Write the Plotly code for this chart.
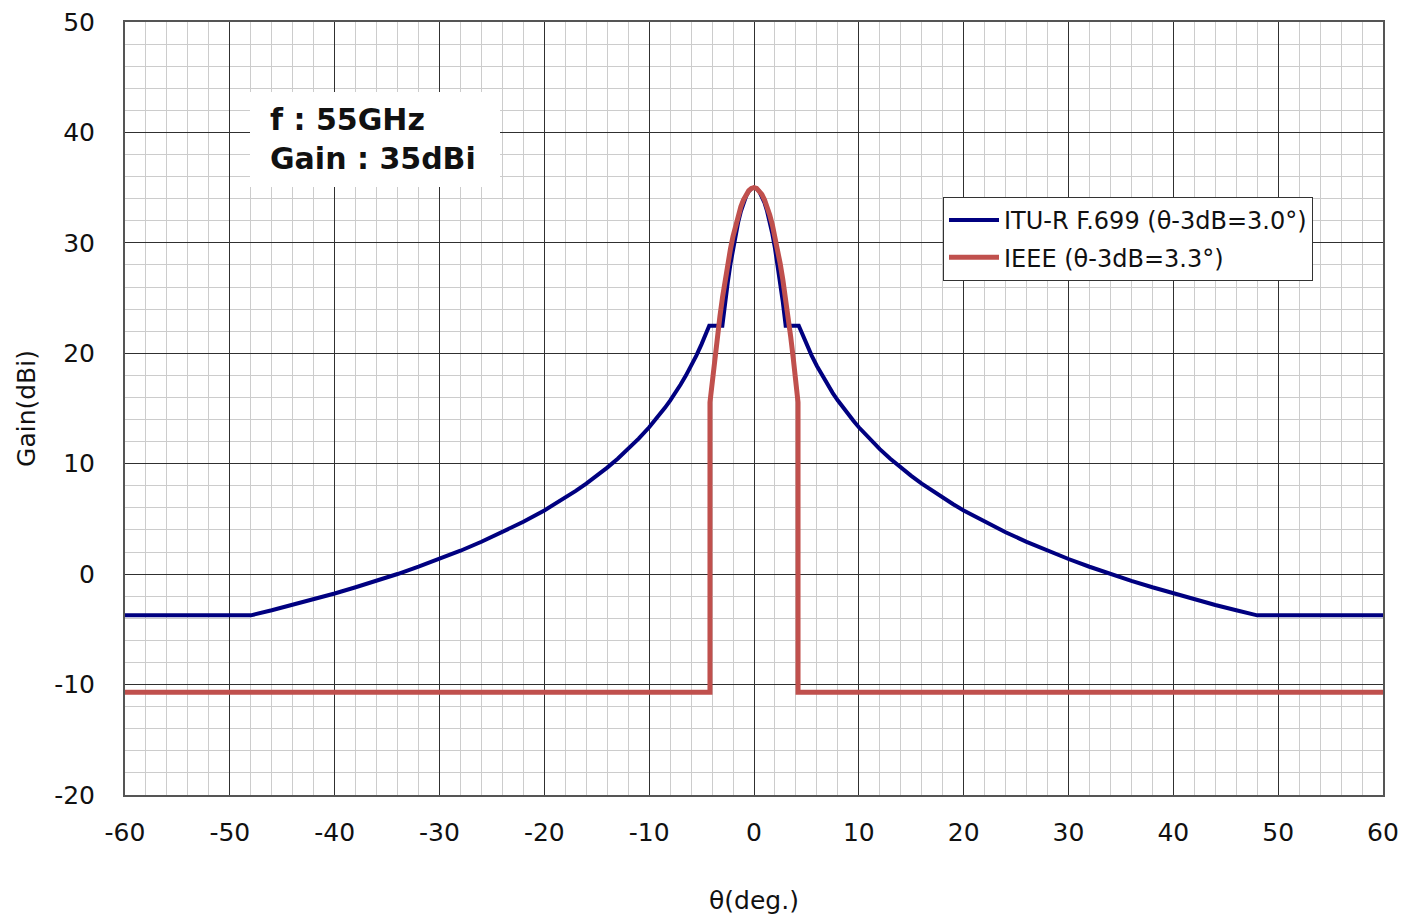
import plotly.graph_objects as go

# ---- data ----
theta_itu = [-60, -48, -46, -44, -42, -40, -38, -36, -34, -32, -30, -28, -26, -24, -22,
             -20, -19, -18, -17, -16, -15, -14, -13, -12, -11, -10, -9.5, -9, -8.5, -8, -7.5,
             -7, -6.5, -6, -5.5, -5, -4.5,
             -4.27, -3.02, -3.0, -2.75, -2.5, -2.25, -2.0, -1.75, -1.5, -1.25, -1.0,
             -0.75, -0.5, -0.25, 0,
             0.25, 0.5, 0.75, 1.0, 1.25, 1.5, 1.75, 2.0, 2.25, 2.5, 2.75, 3.0, 3.02,
             4.27, 4.5, 5, 5.5, 6, 6.5, 7, 7.5, 8, 8.5, 9, 9.5, 10, 11, 12, 13, 14, 15, 16, 17,
             18, 19, 20, 22, 24, 26, 28, 30, 32, 34, 36, 38, 40, 42, 44, 46, 48, 60]
gain_itu = [-3.73, -3.73, -3.27, -2.79, -2.28, -1.75, -1.19, -0.61, 0.01, 0.67, 1.37, 2.12, 2.93, 3.79, 4.74,
            5.77, 6.33, 6.92, 7.54, 8.20, 8.90, 9.65, 10.45, 11.32, 12.27, 13.30, 13.86, 14.44, 15.06, 15.72, 16.42,
            17.17, 17.98, 18.85, 19.79, 20.83, 21.97,
            22.5, 22.5, 22.68, 24.65, 26.44, 28.07, 29.52, 30.81, 31.92, 32.86, 33.63,
            34.23, 34.66, 34.91, 35.0,
            34.91, 34.66, 34.23, 33.63, 32.86, 31.92, 30.81, 29.52, 28.07, 26.44, 24.65, 22.68, 22.5,
            22.5, 21.97, 20.83, 19.79, 18.85, 17.98, 17.17, 16.42, 15.72, 15.06, 14.44, 13.86, 13.30, 12.27,
            11.32, 10.45, 9.65, 8.90, 8.20, 7.54,
            6.92, 6.33, 5.77, 4.74, 3.79, 2.93, 2.12, 1.37, 0.67, 0.01, -0.61, -1.19, -1.75, -2.28, -2.79,
            -3.27, -3.73, -3.73]

theta_ieee = [-60, -4.2, -4.2, -4.0, -3.75, -3.5, -3.25, -3.0, -2.75, -2.5, -2.25, -2.0, -1.75,
              -1.5, -1.25, -1.0, -0.75, -0.5, -0.25, 0,
              0.25, 0.5, 0.75, 1.0, 1.25, 1.5, 1.75, 2.0, 2.25, 2.5, 2.75, 3.0, 3.25, 3.5,
              3.75, 4.0, 4.2, 4.2, 60]
gain_ieee = [-10.7, -10.7, 15.56, 17.37, 19.50, 21.50, 23.36, 25.08, 26.67, 28.11, 29.42, 30.59, 31.63,
             32.52, 33.28, 33.90, 34.38, 34.72, 34.93, 35.0,
             34.93, 34.72, 34.38, 33.90, 33.28, 32.52, 31.63, 30.59, 29.42, 28.11, 26.67, 25.08, 23.36, 21.50,
             19.50, 17.37, 15.56, -10.7, -10.7]

names = ["ITU-R F.699 (θ-3dB=3.0°)", "IEEE (θ-3dB=3.3°)"]
x_ticks = [-60, -50, -40, -30, -20, -10, 0, 10, 20, 30, 40, 50, 60]
y_ticks = [-20, -10, 0, 10, 20, 30, 40, 50]
note_lines = ["f : 55GHz", "Gain : 35dBi"]

FONT = "DejaVu Sans"

fig = go.Figure()
fig.add_trace(go.Scatter(x=theta_itu, y=gain_itu, mode="lines", name=names[0], legendgroup="a",
                         line=dict(color="#000080", width=4)))
fig.add_trace(go.Scatter(x=theta_ieee, y=gain_ieee, mode="lines", name=names[1], legendgroup="b",
                         line=dict(color="#C0504D", width=5)))

axis_common = dict(
    showgrid=True, gridcolor="#303030", gridwidth=1, automargin=False,
    zeroline=False, showline=True, linecolor="#555555", linewidth=2, mirror=True,
    ticks="", tickfont=dict(family=FONT, size=25, color="#111111"),
    minor=dict(showgrid=True, gridcolor="#cccccc", gridwidth=1, dtick=2),
)

fig.update_xaxes(range=[-60, 60], tickvals=x_ticks, ticktext=[str(v) for v in x_ticks],
                 title=dict(text="θ(deg.)", font=dict(family=FONT, size=25, color="#111111"), standoff=45),
                 ticklabelstandoff=14, **axis_common)
fig.update_yaxes(range=[-20, 50], tickvals=y_ticks, ticktext=[str(v) for v in y_ticks],
                 title=dict(text="Gain(dBi)", font=dict(family=FONT, size=25, color="#111111"), standoff=11),
                 ticklabelstandoff=23, **axis_common)

fig.add_shape(type="rect", xref="paper", yref="paper",
              x0=(250 - 125) / 1258, x1=(500 - 125) / 1258,
              y0=(795 - 187) / 773, y1=(795 - 92) / 773,
              fillcolor="white", line=dict(width=0), layer="above")
fig.add_annotation(xref="paper", yref="paper", x=(268 - 125) / 1258, y=(795 - 139) / 773,
                   xanchor="left", yanchor="middle", align="left", showarrow=False,
                   text="<b>" + note_lines[0] + "</b><br><b>" + note_lines[1] + "</b>",
                   font=dict(family=FONT, size=30, color="#111111"))

fig.update_layout(
    width=1402, height=916,
    margin=dict(l=125, r=19, t=22, b=121, autoexpand=False),
    paper_bgcolor="white", plot_bgcolor="white",
    font=dict(family=FONT, color="#111111"),
    showlegend=True,
    legend=dict(x=(943 - 125) / 1258, y=(795 - 197) / 773, xanchor="left", yanchor="top",
                bgcolor="white", bordercolor="#333333", borderwidth=1,
                font=dict(family=FONT, size=24, color="#111111"),
                itemwidth=50, tracegroupgap=3),
)

fig.write_html("out.html", config={"displayModeBar": False},
               post_script="document.body.style.margin='0';document.body.style.overflow='hidden';")
